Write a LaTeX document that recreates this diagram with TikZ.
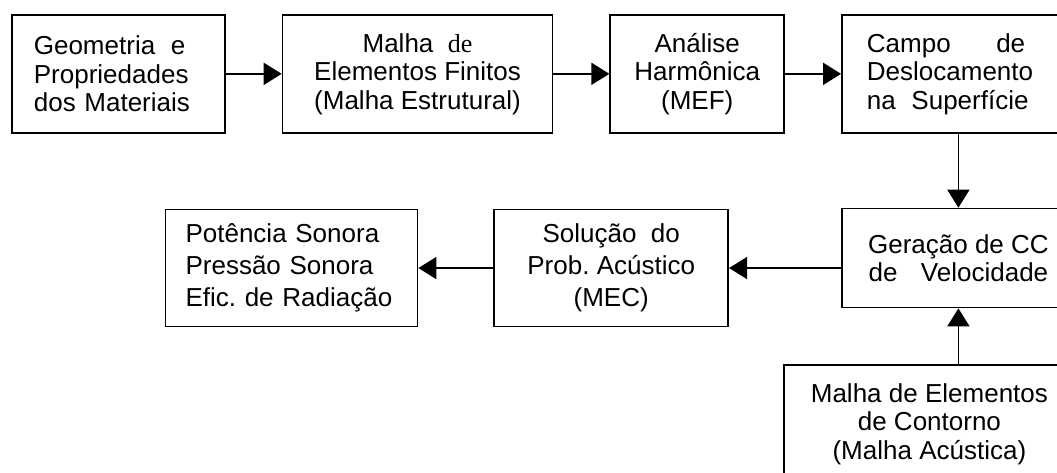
\documentclass[tikz,border=0pt]{standalone}
\usepackage{fontspec}
\setmainfont{Liberation Sans}
\newfontfamily\timesde{Liberation Serif}
\usetikzlibrary{arrows.meta,positioning}
\tikzset{
->, % makes the edges directed
>={Triangle[length=4.5mm,width=5.5mm]}, % big filled arrow heads
node distance=1.4cm, % gap between the boxes of the first row
caixa/.style={draw, rectangle, minimum height=2.95cm, inner sep=0pt, align=center, font=\fontsize{18.5}{20.3}\selectfont}, % sets the properties of each box
linhas largas/.style={font=\fontsize{18.5}{22.8}\selectfont}, % wider line spacing in the second row
}

\begin{document}
\begin{tikzpicture}[line width=1.2pt]
		\useasboundingbox (0,0) rectangle (26.425,-11.8);
		\node[caixa, align=left, text width=4.225cm, minimum width=5.325cm, anchor=north west] (1) at (0.275,-0.35) {Geometria\hspace{0.6em}e\\Propriedades\\dos Materiais};
		\node[caixa, minimum width=6.75cm, right=of 1] (2) {Malha\ \ {\timesde de}\\Elementos Finitos\\(Malha Estrutural)};
		\node[caixa, minimum width=4.35cm, right=of 2] (3) {Análise\\Harmônica\\(MEF)};
		\node[caixa, align=left, text width=4.575cm, minimum width=5.825cm, right=of 3] (4) {Campo\hspace{1.75em}de\\Deslocamento\\na\hspace{0.6em}Superfície};
		\node[caixa, minimum width=5.825cm, minimum height=2.475cm, below=1.85cm of 4] (5) {Geração de CC\\de\hspace{0.9em}Velocidade};
		\node[caixa, linhas largas, minimum width=5.85cm, minimum height=2.925cm, left=2.8cm of 5, yshift=-2.5mm] (6) {Solução\ \ do\\Prob.\ Acústico\\(MEC)};
		\node[caixa, linhas largas, align=left, text width=5.3cm, minimum width=6.3cm, minimum height=2.925cm, left=1.875cm of 6] (7) {Potência Sonora\\Pressão Sonora\\Efic.\ de Radiação};
		\node[caixa, minimum width=7.275cm, below=1.4cm of 5.south east, anchor=north east] (8) {Malha de Elementos\\de Contorno\\(Malha Acústica)};
		\path (1) edge (2)
			(2) edge (3)
			(3) edge (4)
			(4) edge (5)
			(6.east -| 5.west) edge (6)
			(6) edge (7)
			(8.north -| 5.south) edge (5);
	\end{tikzpicture}
\end{document}
